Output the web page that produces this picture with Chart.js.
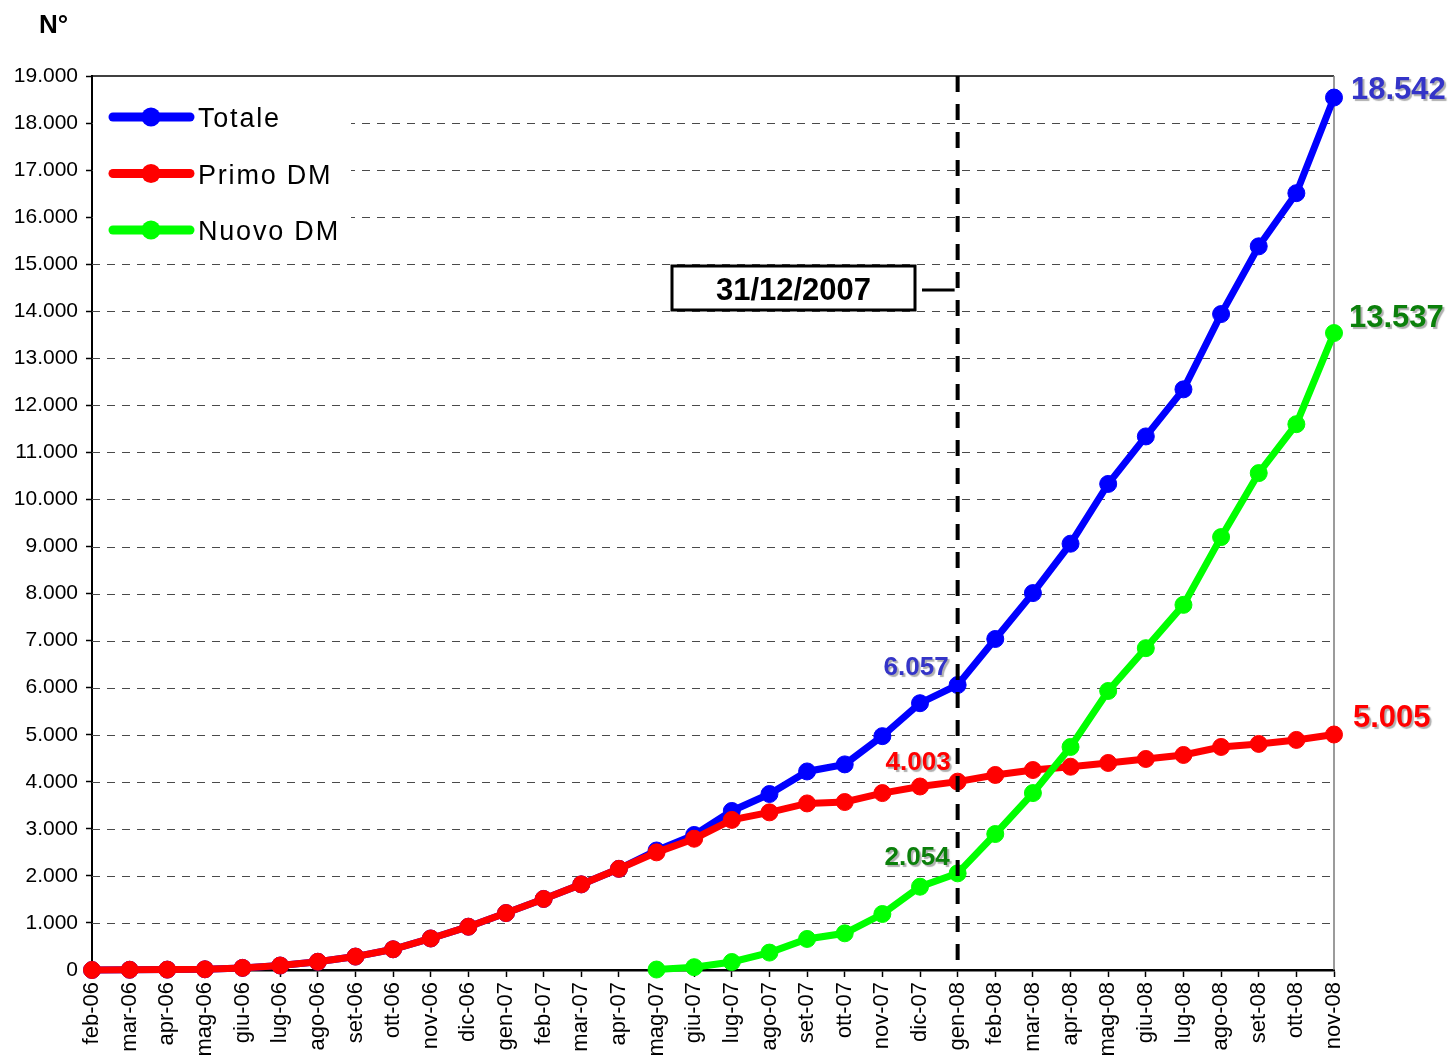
<!DOCTYPE html>
<html>
<head>
<meta charset="utf-8">
<title>Totale, Primo DM, Nuovo DM</title>
<script src="https://cdn.jsdelivr.net/npm/chart.js@4.4.1/dist/chart.umd.min.js"></script>
<style>
  html, body { margin: 0; padding: 0; background: #fff; }
  #wrap { width: 1449px; height: 1056px; position: relative; }
</style>
</head>
<body>
<div id="wrap"><canvas id="chart" width="1449" height="1056"></canvas></div>
<script>
// Monthly categories
const months = ['feb-06','mar-06','apr-06','mag-06','giu-06','lug-06','ago-06','set-06','ott-06','nov-06',
  'dic-06','gen-07','feb-07','mar-07','apr-07','mag-07','giu-07','lug-07','ago-07','set-07',
  'ott-07','nov-07','dic-07','gen-08','feb-08','mar-08','apr-08','mag-08','giu-08','lug-08',
  'ago-08','set-08','ott-08','nov-08'];

// Cumulative counts per series
const totale = [0, 5, 8, 15, 45, 95, 175, 285, 440, 670,
  920, 1210, 1510, 1820, 2150, 2540, 2870, 3380, 3740, 4220,
  4370, 4970, 5670, 6057, 7035, 8010, 9060, 10330, 11340, 12340,
  13940, 15380, 16510, 18542];
const primoDM = [0, 5, 8, 15, 45, 95, 175, 285, 440, 670,
  920, 1210, 1510, 1820, 2150, 2500, 2790, 3190, 3350, 3540,
  3570, 3760, 3900, 4003, 4145, 4250, 4320, 4400, 4485, 4570,
  4740, 4805, 4890, 5005];
const nuovoDM = [null, null, null, null, null, null, null, null, null, null,
  null, null, null, null, null, 10, 60, 170, 370, 660,
  780, 1190, 1770, 2054, 2890, 3760, 4740, 5930, 6840, 7760,
  9200, 10560, 11600, 13537];

// Y axis range
const yMin = 0, yMax = 19000, yStep = 1000;

// Reference date marker
const markerMonth = 'gen-08';
const markerText = '31/12/2007';

// Value callouts (offsets in px from the point)
const callouts = [
  { series: 0, month: 'gen-08', big: false, dx: -9, dy: -17 },
  { series: 1, month: 'gen-08', big: false, dx: -7, dy: -19 },
  { series: 2, month: 'gen-08', big: false, dx: -8, dy: -16 },
  { series: 0, month: 'nov-08', big: true, dx: 17, dy: -7 },
  { series: 1, month: 'nov-08', big: true, dx: 19, dy: -16 },
  { series: 2, month: 'nov-08', big: true, dx: 15, dy: -15 }
];

const seriesNames = ['Totale', 'Primo DM', 'Nuovo DM'];
const seriesData = [totale, primoDM, nuovoDM];
const lineColors = ['#0000ff', '#ff0000', '#00ff00'];
const labelColors = ['#3434c8', '#ff0000', '#0b800b'];

const FONT = "'Liberation Sans', Arial, sans-serif";

function fmt(v) {
  return String(Math.round(v)).replace(/\B(?=(\d{3})+(?!\d))/g, '.');
}

const decorations = {
  id: 'decorations',
  beforeDatasetsDraw(chart) {
    const { ctx, chartArea: a, scales: { y } } = chart;
    ctx.save();
    // dashed horizontal grid
    ctx.strokeStyle = '#4a4a4a';
    ctx.lineWidth = 1;
    ctx.setLineDash([8, 7]);
    for (let v = yMin + yStep; v < yMax; v += yStep) {
      const py = Math.round(y.getPixelForValue(v)) + 0.5;
      ctx.beginPath();
      ctx.moveTo(a.left, py);
      ctx.lineTo(a.right, py);
      ctx.stroke();
    }
    ctx.setLineDash([]);
    // top and right frame
    ctx.strokeStyle = '#000';
    ctx.lineWidth = 1.5;
    ctx.beginPath();
    ctx.moveTo(a.left, a.top);
    ctx.lineTo(a.right, a.top);
    ctx.stroke();
    ctx.strokeStyle = '#7a7a7a';
    ctx.beginPath();
    ctx.moveTo(a.right, a.top);
    ctx.lineTo(a.right, a.bottom);
    ctx.stroke();

    // legend
    const lx = a.left + 1, ly = a.top + 3;
    ctx.fillStyle = '#fff';
    ctx.fillRect(lx, ly, 258, 172);
    ctx.lineCap = 'round';
    seriesNames.forEach((name, i) => {
      const cy = 117 + i * 56.5;
      ctx.strokeStyle = lineColors[i];
      ctx.lineWidth = 9;
      ctx.beginPath();
      ctx.moveTo(113, cy);
      ctx.lineTo(190, cy);
      ctx.stroke();
      ctx.fillStyle = lineColors[i];
      ctx.beginPath();
      ctx.arc(151, cy, 9.5, 0, Math.PI * 2);
      ctx.fill();
      ctx.fillStyle = '#000';
      ctx.font = '27px ' + FONT;
      ctx.letterSpacing = '1.8px';
      ctx.textAlign = 'left';
      ctx.textBaseline = 'middle';
      ctx.fillText(name, 198, cy + 3);
    });
    ctx.restore();
  },
  afterDatasetsDraw(chart) {
    const { ctx, chartArea: a, scales: { x, y } } = chart;
    ctx.save();
    // vertical marker line
    const mx = x.getPixelForValue(months.indexOf(markerMonth));
    ctx.strokeStyle = '#000';
    ctx.lineWidth = 4;
    ctx.setLineDash([16, 12]);
    ctx.beginPath();
    ctx.moveTo(mx, a.top);
    ctx.lineTo(mx, a.bottom);
    ctx.stroke();
    ctx.setLineDash([]);

    // date box with connector
    const bx = 672, by = 266, bw = 243, bh = 44;
    ctx.fillStyle = '#fff';
    ctx.fillRect(bx, by, bw, bh);
    ctx.lineWidth = 3;
    ctx.strokeRect(bx, by, bw, bh);
    ctx.beginPath();
    ctx.moveTo(922, by + bh / 2 + 2);
    ctx.lineTo(mx - 3, by + bh / 2 + 2);
    ctx.stroke();
    ctx.fillStyle = '#000';
    ctx.font = 'bold 31px ' + FONT;
    ctx.textAlign = 'center';
    ctx.textBaseline = 'middle';
    ctx.fillText(markerText, bx + bw / 2, by + bh / 2 + 3);

    // value callouts
    callouts.forEach(c => {
      const idx = months.indexOf(c.month);
      const v = seriesData[c.series][idx];
      const px = x.getPixelForValue(idx);
      const py = y.getPixelForValue(v);
      ctx.shadowColor = 'rgba(110,110,110,0.55)';
      ctx.shadowOffsetX = 2;
      ctx.shadowOffsetY = 2;
      ctx.shadowBlur = 1;
      ctx.fillStyle = labelColors[c.series];
      ctx.textBaseline = 'middle';
      if (c.big) {
        ctx.font = 'bold 31px ' + FONT;
        ctx.textAlign = 'left';
      } else {
        ctx.font = 'bold 26px ' + FONT;
        ctx.textAlign = 'right';
      }
      ctx.fillText(fmt(v), px + c.dx, py + c.dy);
    });
    ctx.restore();
  },
  afterDraw(chart) {
    const { ctx } = chart;
    ctx.save();
    ctx.fillStyle = '#000';
    ctx.font = 'bold 26px ' + FONT;
    ctx.textAlign = 'left';
    ctx.textBaseline = 'middle';
    ctx.fillText('N°', 39, 26);
    ctx.restore();
  }
};

const datasets = seriesNames.map((name, i) => ({
  label: name,
  data: seriesData[i],
  borderColor: lineColors[i],
  backgroundColor: lineColors[i],
  pointBackgroundColor: lineColors[i],
  pointBorderColor: lineColors[i],
  borderWidth: 7,
  pointRadius: 8.5,
  pointBorderWidth: 1,
  tension: 0,
  fill: false,
  spanGaps: false,
  clip: false,
  order: 3 - i
}));

new Chart(document.getElementById('chart'), {
  type: 'line',
  data: { labels: months, datasets },
  options: {
    responsive: false,
    animation: false,
    events: [],
    layout: { padding: { top: 76, right: 115, left: 0, bottom: 0 } },
    plugins: { legend: { display: false }, tooltip: { enabled: false } },
    scales: {
      x: {
        offset: false,
        grid: { drawOnChartArea: false, drawTicks: true, tickLength: 7, tickColor: '#000', tickWidth: 1.5 },
        border: { display: true, color: '#000', width: 2.5 },
        ticks: {
          autoSkip: false, maxRotation: 90, minRotation: 90, padding: 5,
          color: '#000', font: { family: FONT, size: 22 }
        },
        afterFit(scale) { scale.height = 86; }
      },
      y: {
        min: yMin, max: yMax,
        grid: { drawOnChartArea: false, drawTicks: true, tickLength: 6, tickColor: '#000', tickWidth: 1.5 },
        border: { display: true, color: '#000', width: 2 },
        ticks: {
          stepSize: yStep, padding: 8, color: '#000',
          font: { family: FONT, size: 21 },
          callback: v => fmt(v)
        },
        afterFit(scale) { scale.width = 92; }
      }
    }
  },
  plugins: [decorations]
});
</script>
</body>
</html>
